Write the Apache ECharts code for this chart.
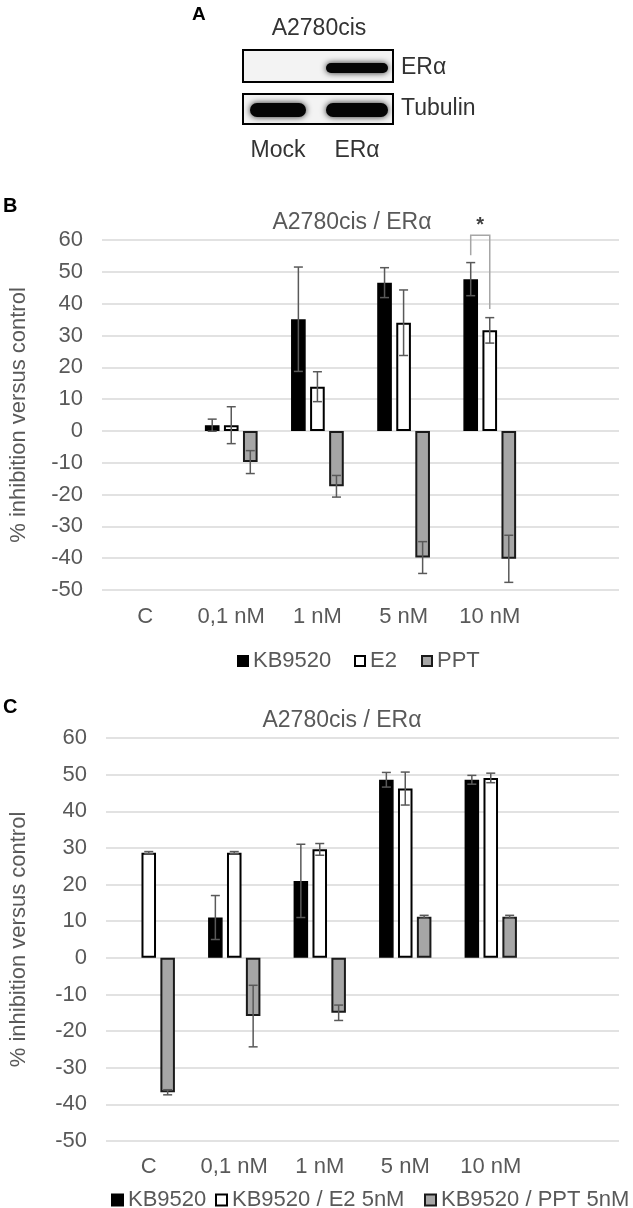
<!DOCTYPE html>
<html><head><meta charset="utf-8">
<script src="https://cdn.jsdelivr.net/npm/echarts@6/dist/echarts.min.js"></script>
<style>html,body{margin:0;padding:0;background:#fff}#c{width:633px;height:1208px}</style>
</head><body><div id="c"></div>
<script>
// ---------- data ----------
const categories = ['C', '0,1 nM', '1 nM', '5 nM', '10 nM', ''];
const yMin = -50, yMax = 60, yStep = 10;

// Panel B
const bNames = ['KB9520', 'E2', 'PPT'];
const bKB9520 = [null, 1.8, 35.1, 46.6, 47.7, null];
const bKB9520Err = [null, 1.9, 16.4, 4.7, 5.2, null];
const bE2 = [null, 1.8, 13.9, 34.0, 31.6, null];
const bE2Err = [null, 5.8, 4.7, 10.3, 4.0, null];
const bPPT = [null, -9.8, -17.4, -39.8, -40.2, null];
const bPPTErr = [null, 3.6, 3.4, 5.0, 7.4, null];

// Panel C
const cNames = ['KB9520', 'KB9520 / E2 5nM', 'KB9520 / PPT 5nM'];
const cKB9520 = [null, 11.0, 21.0, 48.6, 48.6, null];
const cKB9520Err = [null, 6.0, 10.0, 2.0, 1.2, null];
const cE2 = [28.7, 28.7, 29.6, 46.2, 49.1, null];
const cE2Err = [0.3, 0.3, 1.6, 4.5, 1.3, null];
const cPPT = [-36.7, -15.9, -15.0, 11.2, 11.2, null];
const cPPTErr = [0.7, 8.4, 2.1, 0.4, 0.4, null];

// significance bracket (panel B): category, series pair, bracket top / leg ends, label
const sigCategory = 4;
const sigSeriesPair = [0, 1];
const sigTop = 61.5, sigLeftEnd = 55.2, sigRightEnd = 38.3, sigStarValue = 64.5;
const sigLabel = '*';

// ---------- styles / layout ----------
const FONT = 'Liberation Sans, Arial, sans-serif';
const TXT = '#595959';
const FS = 22;
const BAR_FRAC = 0.17, BAR_GAP = 0.3;
const barStyles = [
  { color: '#000000', borderColor: '#000000', borderWidth: 1.5 },
  { color: '#ffffff', borderColor: '#000000', borderWidth: 2 },
  { color: '#a6a6a6', borderColor: '#1a1a1a', borderWidth: 2 }
];
const bLegendLeft = [237, 354, 421];
const cLegendLeft = [111, 215, 424];

function barSeries(name, values, gridIdx, si) {
  return {
    type: 'bar', name: name, xAxisIndex: gridIdx, yAxisIndex: gridIdx,
    data: values, barWidth: (BAR_FRAC * 100) + '%', barGap: (BAR_GAP * 100) + '%',
    itemStyle: barStyles[si], emphasis: { disabled: true }, z: 2
  };
}
function errSeries(values, errs, gridIdx, si) {
  const data = [];
  values.forEach((v, i) => { if (v !== null && errs[i] !== null) data.push([i, v, errs[i]]); });
  return {
    type: 'custom', xAxisIndex: gridIdx, yAxisIndex: gridIdx, z: 5, silent: true,
    data: data,
    renderItem: function (params, api) {
      const cat = api.value(0), v = api.value(1), e = api.value(2);
      const band = api.size([1, 0])[0];
      const bw = band * BAR_FRAC, step = bw * (1 + BAR_GAP);
      const x = api.coord([cat, v])[0] + (si - 1) * step;
      const yH = api.coord([cat, v + e])[1], yL = api.coord([cat, v - e])[1];
      const cap = 4.5;
      const st = { stroke: '#595959', lineWidth: 1.5, fill: null };
      return { type: 'group', children: [
        { type: 'line', shape: { x1: x, y1: yH, x2: x, y2: yL }, style: st },
        { type: 'line', shape: { x1: x - cap, y1: yH, x2: x + cap, y2: yH }, style: st },
        { type: 'line', shape: { x1: x - cap, y1: yL, x2: x + cap, y2: yL }, style: st }
      ]};
    }
  };
}
function sigSeries(gridIdx) {
  return {
    type: 'custom', xAxisIndex: gridIdx, yAxisIndex: gridIdx, z: 6, silent: true, clip: false,
    data: [[sigCategory, sigTop, sigLeftEnd, sigRightEnd, sigStarValue]],
    renderItem: function (params, api) {
      const cat = api.value(0);
      const band = api.size([1, 0])[0];
      const bw = band * BAR_FRAC, step = bw * (1 + BAR_GAP);
      const cx = api.coord([cat, 0])[0];
      const x1 = cx + (sigSeriesPair[0] - 1) * step, x2 = cx + (sigSeriesPair[1] - 1) * step;
      const yT = api.coord([cat, api.value(1)])[1];
      const yA = api.coord([cat, api.value(2)])[1];
      const yB = api.coord([cat, api.value(3)])[1];
      const yS = api.coord([cat, api.value(4)])[1];
      return { type: 'group', children: [
        { type: 'polyline', shape: { points: [[x1, yA], [x1, yT], [x2, yT], [x2, yB]] },
          style: { stroke: '#a6a6a6', lineWidth: 1.5, fill: null } },
        { type: 'text', x: (x1 + x2) / 2, y: yS,
          style: { text: sigLabel, fill: '#404040', font: 'bold 20px ' + FONT, align: 'center', verticalAlign: 'middle' } }
      ]};
    }
  };
}
function yAxisCfg(gridIdx, gap) {
  return {
    type: 'value', gridIndex: gridIdx, min: yMin, max: yMax, interval: yStep,
    name: '% inhibition versus control', nameLocation: 'middle', nameGap: gap, nameRotate: 90,
    nameTextStyle: { fontSize: FS, color: TXT, fontFamily: FONT },
    axisLine: { show: false }, axisTick: { show: false },
    axisLabel: { fontSize: FS, color: TXT, fontFamily: FONT, margin: 19 },
    splitLine: { lineStyle: { color: '#d9d9d9', width: 1.5 } }
  };
}
function xAxisCfg(gridIdx, margin) {
  return {
    type: 'category', gridIndex: gridIdx, data: categories, position: 'bottom',
    axisLine: { show: false, onZero: false }, axisTick: { show: false },
    axisLabel: { fontSize: FS, color: TXT, fontFamily: FONT, margin: margin, interval: 0 }
  };
}
function legendItem(name, left, top, size) {
  return { data: [name], left: left, top: top, padding: 0, itemWidth: size, itemHeight: size,
    selectedMode: false, icon: 'rect', textStyle: { fontSize: FS, color: TXT, fontFamily: FONT } };
}

const chart = echarts.init(document.getElementById('c'), null, { renderer: 'canvas' });
const bVals = [bKB9520, bE2, bPPT], bErrs = [bKB9520Err, bE2Err, bPPTErr];
const cVals = [cKB9520, cE2, cPPT], cErrs = [cKB9520Err, cE2Err, cPPTErr];
const series = [];
bNames.forEach((n, i) => series.push(barSeries(n, bVals[i], 0, i)));
cNames.forEach((n, i) => series.push(barSeries(n, cVals[i], 1, i)));
bNames.forEach((n, i) => series.push(errSeries(bVals[i], bErrs[i], 0, i)));
cNames.forEach((n, i) => series.push(errSeries(cVals[i], cErrs[i], 1, i)));
series.push(sigSeries(0));

const legends = [];
bNames.forEach((n, i) => legends.push(legendItem(n, bLegendLeft[i], 650, 10)));
cNames.forEach((n, i) => legends.push(legendItem(n, cLegendLeft[i], 1189, 11)));

const blotText = { fill: '#333333', font: '23px ' + FONT };
const bandStyle = { fill: '#050505', shadowBlur: 6, shadowColor: 'rgba(0,0,0,0.85)' };
chart.setOption({
  animation: false,
  backgroundColor: '#ffffff',
  textStyle: { fontFamily: FONT },
  title: [
    { text: 'A2780cis / ERα', left: 347, top: 206, textAlign: 'center',
      textStyle: { fontSize: 23, fontWeight: 'normal', color: TXT, fontFamily: FONT } },
    { text: 'A2780cis / ERα', left: 337, top: 704, textAlign: 'center',
      textStyle: { fontSize: 23, fontWeight: 'normal', color: TXT, fontFamily: FONT } }
  ],
  grid: [
    { left: 100, right: 14, top: 240, height: 350 },
    { left: 104, right: 14, top: 738, height: 403 }
  ],
  xAxis: [xAxisCfg(0, 16), xAxisCfg(1, 15)],
  yAxis: [yAxisCfg(0, 72), yAxisCfg(1, 76)],
  legend: legends,
  graphic: [
    { type: 'text', left: 192, top: 5, style: { text: 'A', fill: '#000', font: 'bold 19px ' + FONT } },
    { type: 'text', x: 319, y: 29, style: Object.assign({ text: 'A2780cis', align: 'center', verticalAlign: 'middle' }, blotText) },
    { type: 'rect', shape: { x: 243, y: 50, width: 150, height: 32 }, style: { fill: '#f3f3f3', stroke: '#000', lineWidth: 2 } },
    { type: 'rect', shape: { x: 326, y: 63, width: 62, height: 10, r: 5 }, style: bandStyle },
    { type: 'rect', shape: { x: 243, y: 94, width: 150, height: 30 }, style: { fill: '#f3f3f3', stroke: '#000', lineWidth: 2 } },
    { type: 'rect', shape: { x: 250, y: 103, width: 56, height: 14, r: 7 }, style: bandStyle },
    { type: 'rect', shape: { x: 326, y: 103, width: 62, height: 14, r: 7 }, style: bandStyle },
    { type: 'text', x: 401, y: 68, style: Object.assign({ text: 'ERα', align: 'left', verticalAlign: 'middle' }, blotText) },
    { type: 'text', x: 401, y: 109, style: Object.assign({ text: 'Tubulin', align: 'left', verticalAlign: 'middle' }, blotText) },
    { type: 'text', x: 278, y: 151, style: Object.assign({ text: 'Mock', align: 'center', verticalAlign: 'middle' }, blotText) },
    { type: 'text', x: 357, y: 151, style: Object.assign({ text: 'ERα', align: 'center', verticalAlign: 'middle' }, blotText) },
    { type: 'text', left: 3, top: 196, style: { text: 'B', fill: '#000', font: 'bold 20px ' + FONT } },
    { type: 'text', left: 3, top: 697, style: { text: 'C', fill: '#000', font: 'bold 20px ' + FONT } }
  ],
  series: series
});
</script></body></html>
